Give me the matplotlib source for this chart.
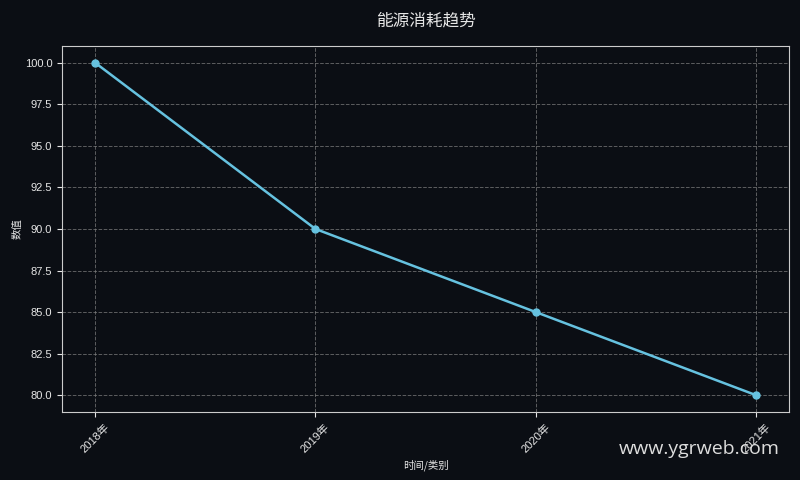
import matplotlib
matplotlib.use("Agg")
import matplotlib.pyplot as plt

categories = ["2018年", "2019年", "2020年", "2021年"]
values = [100, 90, 85, 80]

plt.rcParams['font.family'] = ['Noto Sans CJK SC', 'DejaVu Sans']
bg = '#0b0e14'
fg = '#e6e6e6'
tickfam = ['Liberation Sans', 'Noto Sans CJK SC']

fig = plt.figure(figsize=(8, 4.8), dpi=100, facecolor=bg)
ax = fig.add_axes([0.0775, 0.142, 0.909, 0.762])
ax.set_facecolor(bg)
x = list(range(len(categories)))
ax.plot(x, values, color='#66c2e0', linewidth=1.8, marker='o', markersize=5)
ax.set_xticks(x)
ax.set_xticklabels(categories, rotation=45, fontsize=8, color=fg, family=tickfam)
ax.tick_params(axis='y', labelsize=8, colors=fg)
ax.tick_params(axis='x', colors=fg)
for lab in ax.get_yticklabels():
    lab.set_family(tickfam)
ax.grid(True, color='#808080', linestyle='--', linewidth=0.7, alpha=0.7)
for s in ax.spines.values():
    s.set_color('#cccccc')
ax.set_xlabel('时间/类别', fontsize=7.5, color=fg)
ax.set_ylabel('数值', fontsize=7.5, color=fg, labelpad=1.5)
ax.set_title('能源消耗趋势', fontsize=12, color=fg, pad=15)
fig.text(0.975, 0.065, 'www.ygrweb.com', fontsize=14, color='#dddddd', ha='right', va='center',
         family=['Open Sans', 'DejaVu Sans'])
fig.savefig('out.png', facecolor=bg)
